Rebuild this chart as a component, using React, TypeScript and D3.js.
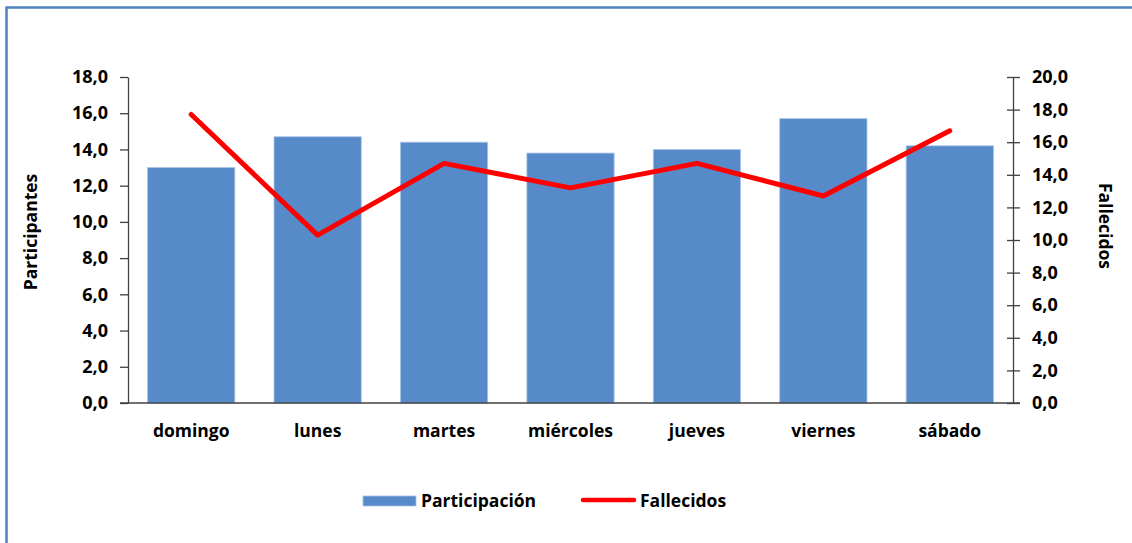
import { useEffect, useRef } from 'react'
import * as d3 from 'd3'

const days = ['domingo', 'lunes', 'martes', 'miércoles', 'jueves', 'viernes', 'sábado']
const participacion = [13.0, 14.7, 14.4, 13.8, 14.0, 15.7, 14.2]
const fallecidos = [17.7, 10.3, 14.7, 13.2, 14.7, 12.7, 16.7]
const leftTicks = [0, 2, 4, 6, 8, 10, 12, 14, 16, 18]
const rightTicks = [0, 2, 4, 6, 8, 10, 12, 14, 16, 18, 20]

const W = 1132
const H = 543
const FONT = '"Open Sans", sans-serif'
const FS = '17.5px'

const fmt = (v: number) => d3.format('.1f')(v).replace('.', ',')

const App = () => {
  const svgRef = useRef<SVGSVGElement | null>(null)

  useEffect(() => {
    if (!svgRef.current) return
    const svg = d3.select(svgRef.current)
    svg.selectAll('*').remove()

    const left = 128
    const right = 1013
    const top = 77
    const bottom = 403

    const x = d3.scaleBand<string>()
      .domain(days)
      .range([left, right])
      .paddingInner(0.31)
      .paddingOuter(0.155)
    const yL = d3.scaleLinear().domain([0, 18]).range([bottom, top])
    const yR = d3.scaleLinear().domain([0, 20]).range([bottom, top])

    // frame
    svg.append('rect')
      .attr('x', 6.5).attr('y', 7.5)
      .attr('width', W + 20).attr('height', H + 20)
      .attr('fill', 'none')
      .attr('stroke', '#4F81BD')
      .attr('stroke-width', 2.5)

    // bars
    svg.append('g')
      .selectAll('rect')
      .data(participacion)
      .join('rect')
      .attr('x', (_, i) => x(days[i])!)
      .attr('y', d => yL(d))
      .attr('width', x.bandwidth())
      .attr('height', d => bottom - yL(d))
      .attr('fill', '#578AC8')
      .attr('stroke', '#A9C4E8')
      .attr('stroke-width', 0.8)

    const axisColor = '#404040'

    // left axis
    const gl = svg.append('g')
      .attr('transform', `translate(${left},0)`)
      .call(d3.axisLeft(yL).tickValues(leftTicks).tickSize(8).tickSizeOuter(0).tickFormat(d => fmt(d as number)))
    gl.select('.domain').attr('stroke', axisColor).attr('stroke-width', 1.3)
    gl.selectAll('.tick line').attr('stroke', axisColor).attr('stroke-width', 1.3)
    gl.selectAll('.tick text')
      .attr('x', -20)
      .attr('fill', '#000')
      .style('font-family', FONT).style('font-weight', 700).style('font-size', '18px')

    // right axis, ticks cross the line
    const gr = svg.append('g')
      .attr('transform', `translate(${right},0)`)
      .call(d3.axisRight(yR).tickValues(rightTicks).tickSize(7).tickSizeOuter(0).tickFormat(d => fmt(d as number)))
    gr.select('.domain').attr('stroke', axisColor).attr('stroke-width', 1.3)
    gr.selectAll('.tick line').attr('x1', -6).attr('stroke', axisColor).attr('stroke-width', 1.3)
    gr.selectAll('.tick text')
      .attr('x', 19)
      .attr('fill', '#000')
      .style('font-family', FONT).style('font-weight', 700).style('font-size', '18px')

    // bottom axis
    const gb = svg.append('g')
      .attr('transform', `translate(0,${bottom})`)
      .call(d3.axisBottom(x).tickSize(0).tickSizeOuter(0))
    gb.select('.domain').attr('stroke', axisColor).attr('stroke-width', 1.3)
      .attr('d', `M${left - 8},0H${right + 7}`)
    gb.selectAll('.tick text')
      .attr('y', 22)
      .attr('fill', '#000')
      .style('font-family', FONT).style('font-weight', 700).style('font-size', FS)

    // line
    const line = d3.line<number>()
      .x((_, i) => x(days[i])! + x.bandwidth() / 2)
      .y(d => yR(d))
    svg.append('path')
      .datum(fallecidos)
      .attr('d', line)
      .attr('fill', 'none')
      .attr('stroke', '#FF0000')
      .attr('stroke-width', 5)
      .attr('stroke-linecap', 'round')
      .attr('stroke-linejoin', 'round')

    // axis titles
    svg.append('text')
      .attr('transform', `translate(37,232) rotate(-90)`)
      .attr('text-anchor', 'middle')
      .style('font-family', FONT).style('font-weight', 700).style('font-size', FS)
      .text('Participantes')
    svg.append('text')
      .attr('transform', `translate(1099,226) rotate(90)`)
      .attr('text-anchor', 'middle')
      .style('font-family', FONT).style('font-weight', 700).style('font-size', FS)
      .text('Fallecidos')

    // legend
    const lg = svg.append('g')
    lg.append('rect')
      .attr('x', 363).attr('y', 496)
      .attr('width', 53).attr('height', 10)
      .attr('fill', '#578AC8')
      .attr('stroke', '#A9C4E8').attr('stroke-width', 0.8)
    lg.append('text')
      .attr('x', 421).attr('y', 507)
      .style('font-family', FONT).style('font-weight', 700).style('font-size', FS)
      .text('Participación')
    lg.append('line')
      .attr('x1', 583).attr('x2', 634).attr('y1', 500).attr('y2', 500)
      .attr('stroke', '#FF0000').attr('stroke-width', 4.5).attr('stroke-linecap', 'round')
    lg.append('text')
      .attr('x', 640).attr('y', 507)
      .style('font-family', FONT).style('font-weight', 700).style('font-size', FS)
      .text('Fallecidos')
  }, [])

  return (
    <svg
      ref={svgRef}
      width={W}
      height={H}
      style={{ position: 'absolute', left: 0, top: 0, background: '#fff', display: 'block' }}
    />
  )
}

export default App
